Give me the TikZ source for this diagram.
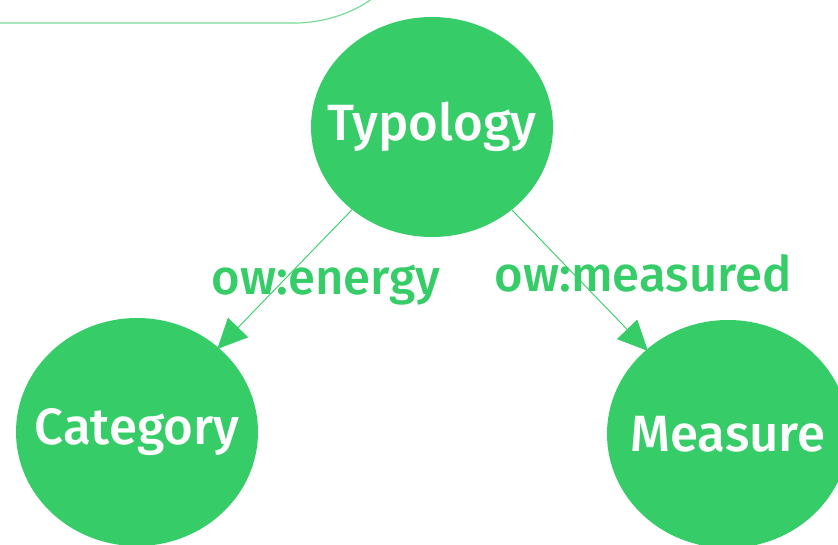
\documentclass[tikz,border=0pt]{standalone}
\usepackage{fontspec}
\setmainfont{Fira Sans Medium}
\usetikzlibrary{shapes.geometric,arrows.meta}
\definecolor{gr}{RGB}{54,205,104}
\definecolor{grl}{RGB}{120,220,150}
\newcommand{\zw}[1]{\makebox[0pt][c]{#1}}
\tikzset{
  ent/.style={ellipse,fill=gr,draw=none,minimum width=242pt,minimum height=228pt,inner sep=0pt,text=white,font=\fontsize{51pt}{56pt}\selectfont},
  rel/.style={draw=gr,line width=0.9pt,-{Triangle[length=30pt,width=28pt]},shorten >=-2pt},
  lab/.style={text=gr,font=\fontsize{49pt}{54pt}\selectfont,inner sep=0pt}
}
\begin{document}
\begin{tikzpicture}[x=1pt,y=-1pt]
\useasboundingbox (0,0) rectangle (838,544);
\fill[white] (0,0) rectangle (838,544);
\draw[grl,line width=1.2pt] (0,23) -- (295,23) .. controls (322,23) and (352,14) .. (373,-2);
\node[ent,minimum height=220pt] (typ) at (432,127) {\zw{Typology}};
\node[ent] (cat) at (137,432) {\zw{Category}};
\node[ent] (mea) at (728,434) {\zw{Measure}};
\draw[rel] (typ) -- (cat);
\draw[rel] (typ) -- (mea);
\node[lab] (l1) at (326,285) {ow:energy};
\node[lab] (l2) at (643,273) {ow:measured};
\end{tikzpicture}
\end{document}
